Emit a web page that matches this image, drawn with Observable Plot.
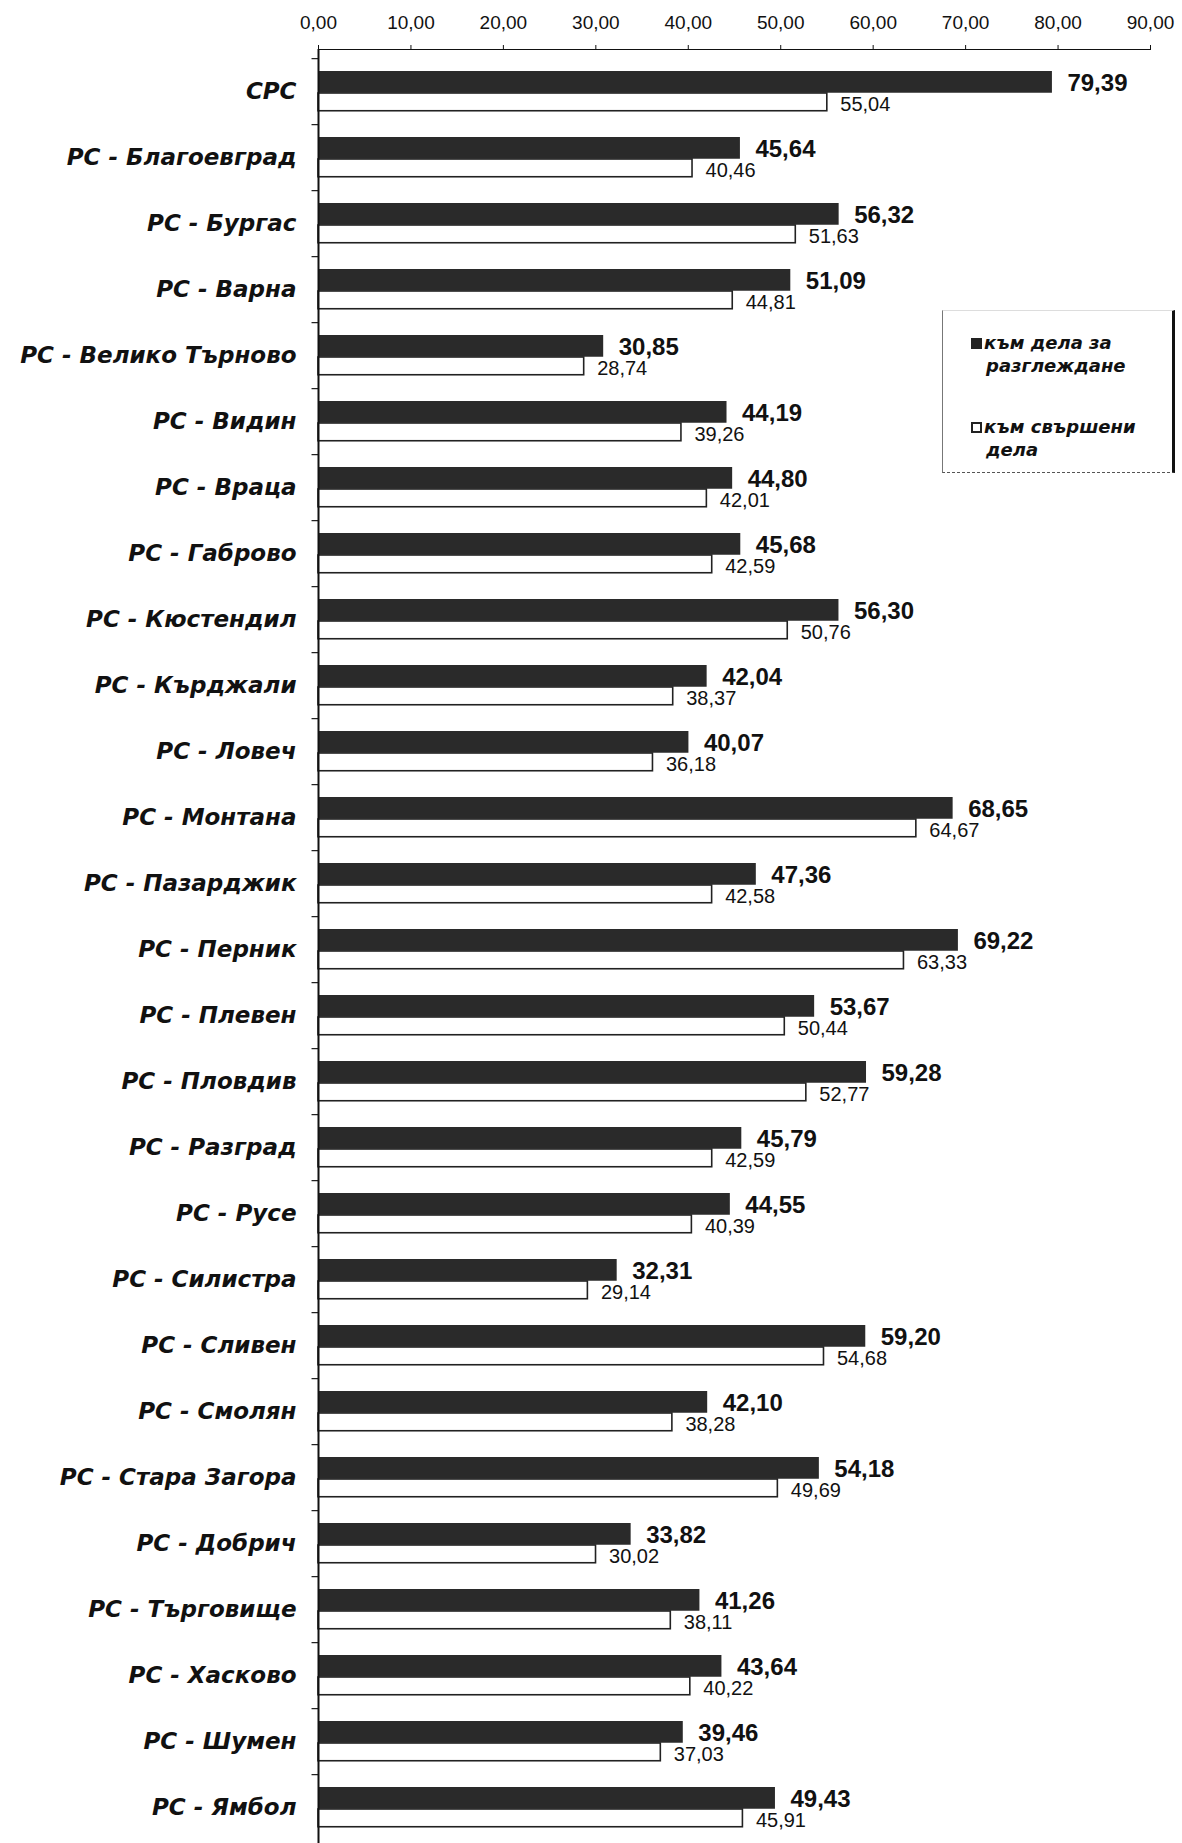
<!DOCTYPE html>
<html>
<head>
<meta charset="utf-8">
<script src="https://cdn.jsdelivr.net/npm/d3@7"></script>
<script src="https://cdn.jsdelivr.net/npm/@observablehq/plot@0.6"></script>
<style>
  body { margin: 0; background: #fff; }
  #wrap { position: relative; width: 1182px; height: 1843px; }
  #legend { position: absolute; left: 942px; top: 310px; width: 229px; height: 161px;
    border-left: 1px solid #777; border-bottom: 1px dashed #555; border-right: 3px solid #111; border-top: 1px solid #ddd;
    font-family: "DejaVu Sans", sans-serif; font-weight: bold; font-style: italic; font-size: 18px; color: #111; }
  #legend .item { position: absolute; left: 28px; line-height: 23px; white-space: nowrap; }
  #legend .sw { display: inline-block; width: 11px; height: 11px; margin-right: 2px; vertical-align: 0px; box-sizing: border-box; }
  #legend .indent { padding-left: 15px; }
</style>
</head>
<body>
<div id="wrap"></div>
<script>
const categories = ["СРС","РС - Благоевград","РС - Бургас","РС - Варна","РС - Велико Търново","РС - Видин","РС - Враца","РС - Габрово","РС - Кюстендил","РС - Кърджали","РС - Ловеч","РС - Монтана","РС - Пазарджик","РС - Перник","РС - Плевен","РС - Пловдив","РС - Разград","РС - Русе","РС - Силистра","РС - Сливен","РС - Смолян","РС - Стара Загора","РС - Добрич","РС - Търговище","РС - Хасково","РС - Шумен","РС - Ямбол"];
const seriesNames = ["към дела за разглеждане", "към свършени дела"];
const toReview = [79.39,45.64,56.32,51.09,30.85,44.19,44.80,45.68,56.30,42.04,40.07,68.65,47.36,69.22,53.67,59.28,45.79,44.55,32.31,59.20,42.10,54.18,33.82,41.26,43.64,39.46,49.43];
const completed = [55.04,40.46,51.63,44.81,28.74,39.26,42.01,42.59,50.76,38.37,36.18,64.67,42.58,63.33,50.44,52.77,42.59,40.39,29.14,54.68,38.28,49.69,30.02,38.11,40.22,37.03,45.91];
const xTicks = [0,10,20,30,40,50,60,70,80,90];

const rows = categories.map((c, i) => ({cat: c, a: toReview[i], b: completed[i]}));
const fmt = v => v.toFixed(2).replace(".", ",");

const W = 1182, H = 1843, mTop = 49, yStart = 54;
const step = (H - yStart) / categories.length;
const darkTop = 13, darkH = 22, whiteTop = 35, whiteH = 18;

const chart = Plot.plot({
  width: W, height: H,
  marginTop: mTop, marginLeft: 318, marginRight: 32, marginBottom: 0,
  style: {fontFamily: "Liberation Sans, Arial, sans-serif", fontSize: "19px", color: "#111", background: "#fff"},
  x: {domain: [0, 90], axis: "top", ticks: xTicks, tickFormat: fmt, tickSize: 5, tickPadding: 16, line: true, label: null},
  y: {domain: categories, range: [yStart, H], paddingInner: 0, paddingOuter: 0, axis: null},
  marks: [
    Plot.barX(rows, {y: "cat", x1: -0.7, x2: 0, fill: "#222", insetTop: 0, insetBottom: step - 1.5}),
    Plot.barX(rows, {y: "cat", x1: 0, x2: "a", fill: "#2a2a2a", insetTop: darkTop, insetBottom: step - darkTop - darkH}),
    Plot.barX(rows, {y: "cat", x1: 0, x2: "b", fill: "#fff", stroke: "#222", strokeWidth: 1.6, insetTop: whiteTop, insetBottom: step - whiteTop - whiteH}),
    Plot.ruleX([0], {stroke: "#111", strokeWidth: 2}),
    Plot.text(rows, {x: "a", y: "cat", text: d => fmt(d.a), dx: 15, dy: darkTop + darkH / 2 - step / 2 + 1, textAnchor: "start", fontWeight: "bold", fontSize: 24, fill: "#111"}),
    Plot.text(rows, {x: "b", y: "cat", text: d => fmt(d.b), dx: 13, dy: whiteTop + whiteH / 2 - step / 2 + 2, textAnchor: "start", fontSize: 20, fill: "#111"}),
    Plot.text(categories, {x: 0, y: d => d, text: d => d, dx: -22, textAnchor: "end", fontSize: 23, fontWeight: "bold", fontStyle: "italic", fontFamily: "DejaVu Sans, sans-serif", fill: "#111"})
  ]
});

const wrap = document.getElementById("wrap");
wrap.appendChild(chart);

const legend = document.createElement("div");
legend.id = "legend";
legend.innerHTML = `
  <div class="item" style="top:20px"><span class="sw" style="background:#222"></span>${"към дела за"}<br><span class="indent">${"разглеждане"}</span></div>
  <div class="item" style="top:104px"><span class="sw" style="background:#fff;border:2px solid #222"></span>${"към свършени"}<br><span class="indent">${"дела"}</span></div>`;
wrap.appendChild(legend);
</script>
</body>
</html>
